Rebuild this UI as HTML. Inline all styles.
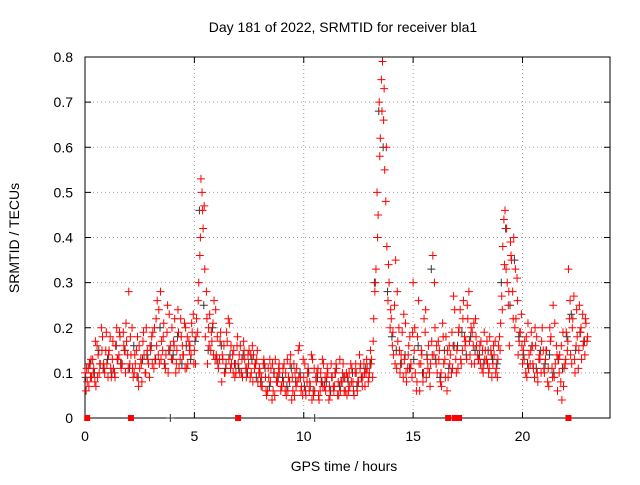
<!DOCTYPE html>
<html><head><meta charset="utf-8"><style>
html,body{margin:0;padding:0;background:#fff;}
svg text{font-family:"Liberation Sans",sans-serif;font-size:14px;fill:#000;}
</style></head><body>
<svg id="chart" width="640" height="480" viewBox="0 0 640 480" xmlns="http://www.w3.org/2000/svg">
<rect width="640" height="480" fill="#fff"/>
<text x="343" y="32" text-anchor="middle">Day 181 of 2022, SRMTID for receiver bla1</text>
<text x="344" y="471" text-anchor="middle">GPS time / hours</text>
<text transform="translate(19,238) rotate(-90)" text-anchor="middle">SRMTID / TECUs</text>
<g id="grid"></g>
<g id="axes"></g>
<g id="black-series"></g>
<g id="red-series"></g>
</svg>
<script>
const xTicks=[0,5,10,15,20];
const yTicks=[0,0.1,0.2,0.3,0.4,0.5,0.6,0.7,0.8];
const redA=[.10,.08,.12,.09,.11,.07,.14,.12,.18,.10,
.12,.15,.09,.11,.16,.13,.18,.12,.15,.17,
.28,.14,.09,.12,.18,.11,.08,.14,.20,.12,
.15,.19,.13,.26,.12,.17,.21,.14,.10,.16,
.13,.22,.15,.11,.18,.14,.20,.12,.16,.19,
.15,.22,.30,.53,.42,.18,.12,.23,.17,.26,
.14,.11,.19,.13,.10,.17,.21,.12,.15,.10,
.12,.16,.09,.13,.11,.15,.10,.14,.12,.08,
.10,.07,.12,.05,.09,.11,.06,.13,.08,.10,
.07,.12,.05,.09,.14,.06,.10,.08,.16,.07,
.09,.05,.11,.07,.13,.06,.10,.04,.08,.12,
.06,.10,.05,.09,.07,.11,.05,.08,.12,.06,
.09,.07,.11,.05,.10,.08,.12,.09,.07,.11,
.10,.13,.22,.33,.45,.62,.79,.55,.38,.30,
.22,.14,.35,.17,.10,.19,.13,.08,.16,.12,
.30,.10,.18,.06,.14,.22,.09,.16,.12,.36,
.20,.10,.15,.07,.12,.18,.09,.14,.11,.24,
.15,.20,.12,.26,.17,.22,.14,.19,.12,.16,
.13,.17,.10,.15,.12,.18,.09,.14,.11,.16,
.21,.38,.46,.30,.16,.35,.40,.22,.14,.19,
.12,.17,.09,.14,.19,.11,.16,.08,.13,.20,
.10,.15,.07,.18,.25,.12,.06,.14,.04,.11,
.19,.33,.14,.22,.10,.18,.25,.13,.17,.21];
const redB=[.06,.11,.09,.13,.08,.16,.10,.20,.12,.15,
.09,.18,.13,.10,.20,.14,.11,.19,.10,.14,
.12,.20,.10,.15,.07,.13,.17,.10,.15,.09,
.18,.11,.22,.14,.28,.15,.12,.19,.23,.13,
.17,.10,.24,.13,.16,.21,.11,.17,.14,.23,
.12,.19,.36,.50,.47,.28,.20,.15,.21,.13,
.18,.13,.08,.16,.12,.22,.11,.14,.09,.16,
.14,.10,.17,.11,.14,.09,.16,.11,.13,.10,
.07,.12,.09,.06,.13,.04,.10,.08,.11,.06,
.11,.06,.13,.08,.04,.12,.07,.15,.09,.05,
.12,.08,.06,.14,.05,.09,.11,.06,.13,.07,
.09,.04,.12,.07,.10,.05,.13,.08,.06,.10,
.06,.12,.08,.10,.06,.14,.09,.12,.10,.08,
.15,.09,.28,.50,.70,.75,.66,.48,.26,.20,
.16,.25,.11,.20,.14,.09,.21,.11,.18,.09,
.15,.06,.26,.12,.08,.19,.13,.10,.17,.14,
.12,.17,.08,.21,.13,.06,.16,.10,.27,.13,
.11,.24,.15,.18,.13,.28,.20,.16,.22,.14,
.16,.11,.19,.13,.10,.15,.12,.17,.09,.18,
.27,.44,.33,.25,.39,.28,.20,.31,.17,.23,
.15,.10,.21,.12,.16,.09,.18,.13,.10,.15,
.13,.08,.20,.11,.09,.16,.13,.08,.19,.12,
.15,.22,.12,.27,.16,.11,.19,.23,.14,.17];
const redC=[.11,.07,.13,.10,.17,.09,.12,.15,.11,.19,
.14,.11,.17,.09,.13,.19,.12,.16,.21,.11,
.18,.11,.14,.09,.16,.12,.19,.10,.13,.16,
.12,.20,.16,.24,.13,.18,.11,.25,.15,.20,
.16,.12,.19,.22,.14,.11,.18,.15,.21,.12,
.18,.26,.40,.46,.33,.22,.16,.19,.14,.24,
.12,.17,.14,.10,.19,.13,.16,.10,.12,.18,
.10,.13,.15,.09,.12,.14,.08,.12,.15,.11,
.09,.13,.06,.11,.08,.12,.05,.09,.12,.07,
.08,.10,.06,.12,.09,.05,.11,.09,.06,.13,
.06,.10,.08,.04,.11,.08,.05,.10,.07,.09,
.11,.07,.09,.06,.12,.08,.06,.10,.09,.05,
.10,.08,.06,.12,.08,.11,.07,.10,.13,.09,
.12,.17,.30,.40,.58,.68,.73,.60,.34,.24,
.19,.12,.28,.15,.12,.23,.10,.14,.11,.19,
.20,.08,.12,.15,.10,.24,.11,.07,.14,.30,
.16,.13,.10,.18,.09,.15,.12,.19,.16,.10,
.19,.13,.22,.16,.25,.17,.12,.21,.18,.13,
.12,.15,.13,.17,.11,.14,.16,.10,.13,.15,
.24,.34,.42,.28,.36,.22,.33,.26,.19,.16,
.13,.18,.11,.15,.12,.20,.10,.14,.17,.11,
.15,.11,.17,.09,.21,.14,.10,.16,.07,.13,
.17,.26,.20,.13,.24,.15,.20,.16,.22,.18];
const blackV=[.09,.12,.10,.15,.11,.13,.10,.16,.12,.15,.11,.16,.09,.13,.14,.16,.13,.20,.12,.15,
.14,.18,.12,.16,.13,.17,.46,.25,.15,.20,.13,.16,.11,.14,.12,.11,.14,.10,.13,.09,
.08,.11,.07,.10,.09,.09,.07,.11,.08,.10,.07,.10,.06,.09,.08,.08,.06,.10,.07,.09,
.08,.10,.07,.09,.11,.12,.30,.68,.60,.28,.18,.15,.12,.14,.11,.13,.16,.10,.14,.33,
.13,.09,.15,.11,.16,.16,.19,.14,.18,.15,.14,.12,.15,.13,.12,.30,.42,.25,.35,.18,
.14,.12,.16,.11,.15,.12,.14,.10,.13,.11,.18,.23,.15,.19,.17];
const redZeroT=[0.1,2.1,7.0,16.6,16.9,17.1,22.1];
const blackZeroT=[3.9,10.5];

const X0=85,X1=610,Y0=418,Y1=57,XMAX=24,YMAX=0.8;
function xs(t){return X0+(X1-X0)*t/XMAX;}
function ys(v){return Y0-(Y0-Y1)*v/YMAX;}
const NS="http://www.w3.org/2000/svg";
function mk(tag,attrs,parent){const e=document.createElementNS(NS,tag);for(const k in attrs)e.setAttribute(k,attrs[k]);parent.appendChild(e);return e;}
const grid=document.getElementById('grid'),axes=document.getElementById('axes');
xTicks.forEach(t=>{
  const x=xs(t);
  if(t>0){const l=mk('line',{x1:x,y1:Y0,x2:x,y2:Y1,stroke:'#a0a0a0','stroke-dasharray':'1,3'},grid);
  
  }
  mk('line',{x1:x,y1:Y0,x2:x,y2:Y0-6,stroke:'#000'},axes);
  mk('line',{x1:x,y1:Y1,x2:x,y2:Y1+6,stroke:'#000'},axes);
  const tx=mk('text',{x:x,y:Y0+23,'text-anchor':'middle'},axes);tx.textContent=t;
  
  
});
yTicks.forEach(v=>{
  const y=ys(v);
  if(v>0&&v<0.8){const l=mk('line',{x1:X0,y1:y,x2:X1,y2:y,stroke:'#a0a0a0','stroke-dasharray':'1,3'},grid);
  
  }
  mk('line',{x1:X0,y1:y,x2:X0+6,y2:y,stroke:'#000'},axes);
  mk('line',{x1:X1,y1:y,x2:X1-6,y2:y,stroke:'#000'},axes);
  const tx=mk('text',{x:X0-12,y:y+5,'text-anchor':'end'},axes);tx.textContent=(v===0?'0':v.toFixed(1));
  
  
});
mk('rect',{x:X0,y:Y1,width:X1-X0,height:Y0-Y1,fill:'none',stroke:'#000'},axes);
function plus(g,t,v,col){
  const x=xs(t),y=ys(v);
  const p=mk('path',{d:`M${x-4},${y}h8M${x},${y-4}v8`,stroke:col,'stroke-width':1,fill:'none'},g);
  
  
}
const bg=document.getElementById('black-series'),rg=document.getElementById('red-series');
blackV.forEach((v,i)=>plus(bg,i*0.2+0.03,v,'#333'));
redA.forEach((v,i)=>plus(rg,i*0.1,v,'#f00'));
redB.forEach((v,i)=>plus(rg,i*0.1+0.05,v,'#f00'));
redC.forEach((v,i)=>plus(rg,i*0.1+0.075,v,'#f00'));
blackZeroT.forEach(t=>plus(bg,t,0,'#333'));
redZeroT.forEach(t=>{const r=mk('rect',{x:xs(t)-3,y:ys(0)-3,width:6,height:6,fill:'#f00'},rg);

});
</script>
</body></html>
